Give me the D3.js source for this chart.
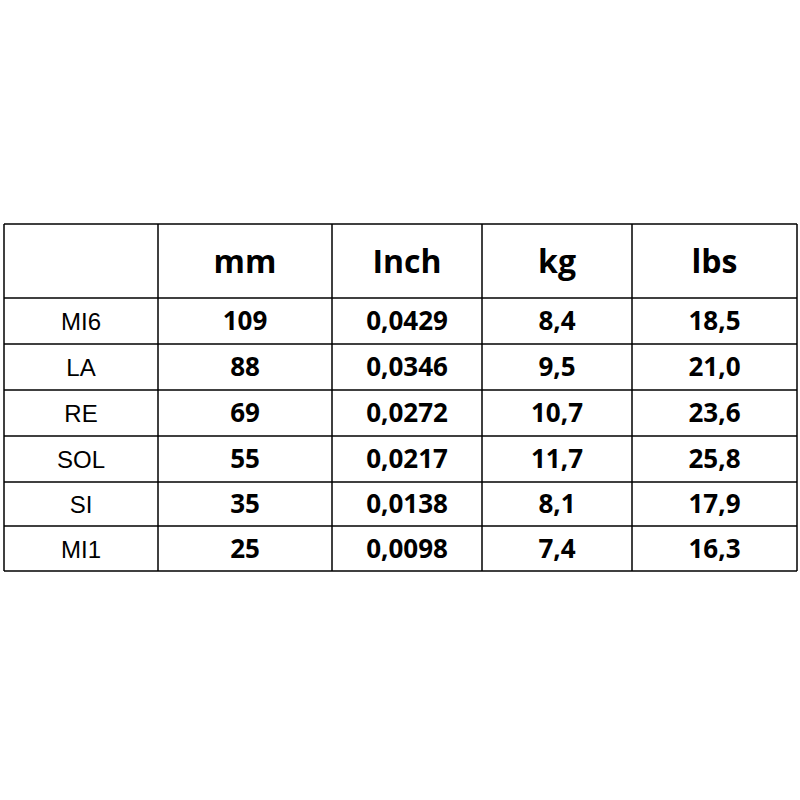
<!DOCTYPE html>
<html><head><meta charset="utf-8">
<script src="https://cdn.jsdelivr.net/npm/d3@7"></script>
<style>body{margin:0;background:#fff}</style>
</head><body>
<div id="chart"></div>
<script>
const columns = ["", "mm", "Inch", "kg", "lbs"];
const strings = ["MI6", "LA", "RE", "SOL", "SI", "MI1"];
const mm = ["109", "88", "69", "55", "35", "25"];
const inch = ["0,0429", "0,0346", "0,0272", "0,0217", "0,0138", "0,0098"];
const kg = ["8,4", "9,5", "10,7", "11,7", "8,1", "7,4"];
const lbs = ["18,5", "21,0", "23,6", "25,8", "17,9", "16,3"];

var width = 800, height = 800;
var colEdges = [4, 158, 332, 482, 632, 797];
var rowEdges = [224, 298, 344, 390, 436, 482, 526, 571];

var svg = d3.select("#chart").append("svg")
    .attr("width", width).attr("height", height);

var rows = strings.map((s, i) => [s, mm[i], inch[i], kg[i], lbs[i]]);

// grid
svg.selectAll(".h").data(rowEdges).enter().append("line")
    .attr("x1", colEdges[0]).attr("x2", colEdges[5])
    .attr("y1", d => d).attr("y2", d => d)
    .attr("stroke", "#000").attr("stroke-width", 1.5);
svg.selectAll(".v").data(colEdges).enter().append("line")
    .attr("y1", rowEdges[0]).attr("y2", rowEdges[rowEdges.length - 1])
    .attr("x1", d => d).attr("x2", d => d)
    .attr("stroke", "#000").attr("stroke-width", 1.5);

var cx = i => (colEdges[i] + colEdges[i + 1]) / 2;

svg.selectAll(".head").data(columns).enter().append("text")
    .attr("x", (d, i) => cx(i)).attr("y", (rowEdges[0] + rowEdges[1]) / 2 + 12)
    .attr("text-anchor", "middle")
    .style("font-family", "Open Sans, sans-serif").style("font-weight", "bold")
    .style("font-size", "32px").text(d => d);

rows.forEach(function (r, ri) {
    var y = (rowEdges[ri + 1] + rowEdges[ri + 2]) / 2 + 9;
    svg.selectAll(".r" + ri).data(r).enter().append("text")
        .attr("x", (d, i) => cx(i)).attr("y", y)
        .attr("text-anchor", "middle")
        .style("font-family", (d, i) => i === 0 ? "Liberation Sans, Arial" : "Open Sans, sans-serif")
        .style("font-weight", (d, i) => i === 0 ? "normal" : "bold")
        .style("font-size", (d, i) => i === 0 ? "24px" : "26px")
        .text(d => d);
});
</script>
</body></html>
